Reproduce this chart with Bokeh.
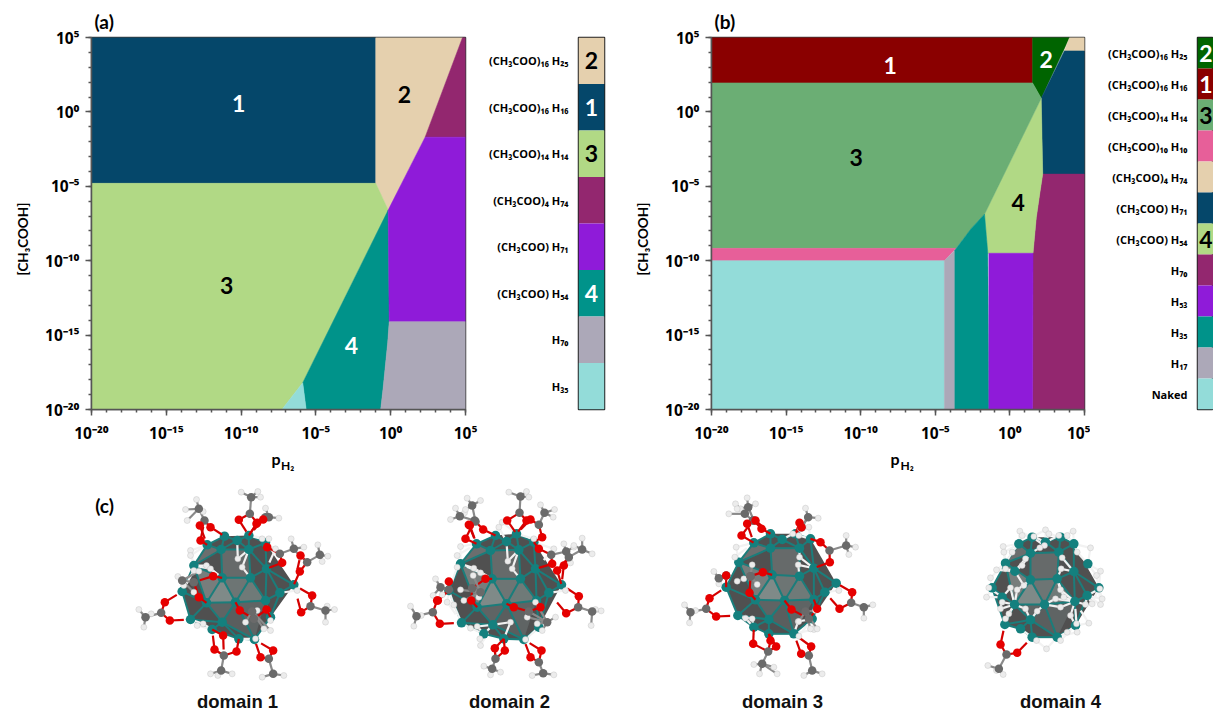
from bokeh.plotting import figure
from bokeh.layouts import row, column
from bokeh.models import FixedTicker, Title, Range1d
from bokeh.core.properties import value
from bokeh.embed import file_html
from bokeh.resources import INLINE

# ---------- colours
BEIGE="#e5d0ae"; NAVY="#05476a"; LGREEN="#b1d985"; PLUM="#93276f"; PURPLE="#8f1bd9"
TEAL="#00938a"; GRAY="#aca8b8"; CYAN="#93dcd9"; DRED="#8a0000"; DGREEN="#006400"
MGREEN="#6bae74"; PINK="#e75f99"

# ---------- panel (a): stability domains, log10(p_H2), log10([CH3COOH])
a_colors = [NAVY,BEIGE,LGREEN,TEAL,PLUM,PURPLE,GRAY,CYAN]
a_xs = [[-20,-1,-1,-20],[-1,4.8,2.3,-0.17,-1],[-20,-1,-0.17,-5.88,-7.27,-20],
        [-0.17,-0.1,-0.2,-0.35,-0.5,-0.67,-5.65,-5.88],[4.8,5,5,2.3],[-0.17,2.3,5,5,-0.1],
        [-0.1,5,5,-0.67,-0.5,-0.35,-0.2],[-5.88,-5.65,-7.27]]
a_ys = [[5,5,-4.8,-4.8],[5,5,-1.7,-6.6,-4.8],[-4.8,-4.8,-6.6,-18.2,-20,-20],
        [-6.6,-14.1,-15.5,-17,-18.5,-20,-20,-18.2],[5,5,-1.7,-1.7],[-6.6,-1.7,-1.7,-14.1,-14.1],
        [-14.1,-14.1,-20,-20,-18.5,-17,-15.5],[-18.2,-20,-20]]
a_lab = ["1","2","3","4"]; a_lab_x = [-10.17,0.92,-10.97,-2.62]; a_lab_y = [0.57,1.17,-11.7,-15.67]
a_lab_col = ["white","black","black","white"]

# ---------- panel (b)
b_colors = [DRED,DGREEN,BEIGE,NAVY,PLUM,LGREEN,MGREEN,PINK,CYAN,GRAY,TEAL,PURPLE]
b_xs = [[-20,1.52,1.52,-20],[1.52,4.0,2.1,1.52],[4.0,5,5,3.65],[3.65,5,5,2.2,2.1],
        [2.2,5,5,1.52,1.55,1.77,2.0],[2.1,2.2,2.0,1.77,1.55,-1.48,-1.7],
        [-20,1.52,2.1,-1.7,-2.6,-3.6,-20],[-20,-3.6,-4.4,-20],[-20,-4.39,-4.39,-20],
        [-4.39,-3.69,-3.69,-4.39],[-3.69,-2.6,-1.7,-1.48,-1.41,-3.69],[-1.41,1.55,1.52,-1.41]]
b_ys = [[5,5,1.95,1.95],[5,5,0.92,1.95],[5,5,4.1,4.1],[4.1,4.1,-4.18,-4.18,0.92],
        [-4.18,-4.18,-20,-20,-9.5,-7.1,-5.5],[0.92,-4.18,-5.5,-7.1,-9.5,-9.5,-6.87],
        [1.95,1.95,0.92,-6.87,-7.85,-9.17,-9.17],[-9.17,-9.17,-10,-10],[-10,-10,-20,-20],
        [-10,-9.3,-20,-20],[-9.3,-7.85,-6.87,-9.5,-20,-20],[-9.5,-9.5,-20,-20]]
b_lab = ["1","2","3","4"]; b_lab_x = [-8.03,2.43,-10.3,0.56]; b_lab_y = [3.1,3.5,-3.09,-6.1]
b_lab_col = ["white","white","black","black"]

# ---------- colour keys (top to bottom)
ka_labels = ["(CH₃COO)₁₆ H₂₅","(CH₃COO)₁₆ H₁₆","(CH₃COO)₁₄ H₁₄","(CH₃COO)₄ H₇₄","(CH₃COO) H₇₁","(CH₃COO) H₅₄","H₇₀","H₃₅"]
ka_colors = [BEIGE,NAVY,LGREEN,PLUM,PURPLE,TEAL,GRAY,CYAN]
ka_nums = ["2","1","3","","","4","",""]
ka_numcol = ["black","white","black","white","white","white","black","black"]
kb_labels = ["(CH₃COO)₁₆ H₂₅","(CH₃COO)₁₆ H₁₆","(CH₃COO)₁₄ H₁₄","(CH₃COO)₁₀ H₁₀","(CH₃COO)₄ H₇₄","(CH₃COO) H₇₁",
             "(CH₃COO) H₅₄","H₇₀","H₅₃","H₃₅","H₁₇","Naked"]
kb_colors = [DGREEN,DRED,MGREEN,PINK,BEIGE,NAVY,LGREEN,PLUM,PURPLE,TEAL,GRAY,CYAN]
kb_nums = ["2","1","3","","","","4","","","","",""]
kb_numcol = ["white","white","black","black","black","white","black","white","white","white","black","black"]

tick_vals = [-20,-15,-10,-5,0,5]
tick_text = ["10⁻²⁰","10⁻¹⁵","10⁻¹⁰","10⁻⁵","10⁰","10⁵"]
minor_vals = list(range(-20,6))

# ---------- structure sketches (positions, 3x crop pixels)
bonds = [(0,1),(0,4),(4,5),(5,6),(6,3),(3,2),(1,5),(2,5),(1,4),(2,6),(1,2),(0,7),(1,8),(2,9),(1,7),(3,10),(2,10),
         (7,8),(8,9),(9,10),(7,11),(8,12),(8,13),(9,13),(9,14),(10,14),(10,16),(11,12),(7,12),(12,13),(13,14),(14,15),
         (15,16),(11,17),(12,17),(12,18),(13,18),(14,22),(15,22),(17,18),(17,19),(18,19),(18,20),(19,20),(20,21),(18,21),
         (21,22),(13,21),(10,15)]
hull = [0,4,6,3,16,22,21,20,19,17,11,7]
faces_light = [(1,2,9,8),(8,12,13),(9,13,14),(8,9,13),(7,8,12),(12,13,18),(13,18,21),(13,14,21),(0,1,7)]
face_cols = ["#666a6a","#7f8a88","#6f7a78","#6d7574","#777d7c","#5f6464","#5a5e5e","#5f6464","#6b6e6e"]

m1_org = (130,485)
m1_teal = [(230,178),(272,192),(355,192),(405,172),(282,152),(320,165),(355,150),(190,240),(275,277),(360,277),(408,250),
           (155,318),(228,352),(315,350),(405,345),(448,322),(490,298),(180,402),(275,410),(245,432),(325,460),(372,462),(420,395)]
m1_lig = [([(325,103),(380,112)],(358,85),(362,35),[(332,20),(382,18),(390,35)]),
          ([(208,120),(240,125),(210,165)],(222,105),(205,70),[(198,42),(165,72),(170,105),(218,78)]),
          ([(398,102),(378,115)],(405,95),(415,95),[(405,68),(445,98)]),
          ([(410,185),(455,232)],(448,205),(490,190),[(482,160),(520,185),(510,215)]),
          ([(510,210),(508,258)],(530,230),(568,208),[(562,178),(592,212),(575,228)]),
          ([(545,330),(512,380)],(540,362),(585,375),[(612,372),(585,410),(590,362)]),
          ([(103,350),(118,405)],(92,382),(45,395),[(25,372),(40,425),(62,385)]),
          ([(252,492),(318,498),(278,450)],(280,510),(272,555),[(240,565),(305,565),(262,570)]),
          ([(390,515),(428,495)],(415,520),(428,565),[(395,575),(460,570)]),
          ([(248,272),(205,335)],(190,290),(155,285),[(142,273),(205,257),(160,300),(190,320)]),
          ([(328,375),(408,372)],(370,400),(365,378),[(345,410),(380,375),(400,430),(420,435)])]
m1_h = [(180,195),(180,210),(228,240),(240,250),(322,220),(335,245),(218,415),(200,420),(375,460),(435,190),(500,315),
        (420,405),(395,160),(190,255),(415,160)]

m2_org = (400,485)
m2_teal = [(228,175),(270,195),(355,193),(400,170),(285,150),(318,168),(348,145),(180,235),(275,280),(360,280),(405,250),
           (145,315),(230,365),(318,355),(408,345),(445,322),(483,298),(183,412),(277,418),(250,445),(310,460),(370,462),(415,425)]
m2_lig = [([(320,105),(378,105)],(357,82),(360,33),[(325,20),(378,18),(385,35)]),
          ([(208,120),(195,160)],(222,105),(178,92),[(165,68),(150,102),(192,82)]),
          ([(248,132),(205,118)],(225,108),(215,60),[(200,38),(240,45),(195,72)]),
          ([(390,102),(425,155)],(415,118),(432,82),[(420,58),(462,72),(458,95)]),
          ([(415,190),(455,235)],(452,208),(497,198),[(490,175),(520,185),(510,232)]),
          ([(490,240),(470,255)],(505,215),(545,192),[(545,158),(575,205),(520,180)]),
          ([(535,332),(497,383)],(533,365),(575,378),[(602,376),(572,420),(585,372)]),
          ([(110,345),(118,415)],(97,380),(48,392),[(30,362),(40,422),(62,390)]),
          ([(145,288),(112,345)],(145,312),(120,305),[(105,280),(98,330),(125,328)]),
          ([(255,280),(212,345)],(215,308),(240,320),[(180,313),(218,270),(235,335),(190,345)]),
          ([(340,365),(420,365)],(385,378),(440,410),[(405,350),(380,395),(425,435),(465,395),(410,415)]),
          ([(283,488),(313,495)],(285,520),(275,550),[(250,542),(300,560),(270,568)]),
          ([(390,515),(423,495)],(415,530),(428,563),[(395,570),(460,568)])]
m2_h = [(295,125),(305,110),(180,183),(170,210),(170,245),(220,248),(240,262),(322,227),(335,250),(140,350),(160,358),
        (230,423),(210,428),(330,410),(375,462),(240,480),(238,460),(400,160),(495,315),(460,190)]

m3_org = (675,485)
m3_teal = [(235,172),(285,188),(372,188),(405,160),(285,145),(320,162),(360,145),(190,230),(290,268),(372,272),(415,248),
           (152,305),(240,343),(327,345),(415,342),(448,320),(482,293),(187,390),(280,402),(235,425),(280,445),(355,445),(410,400)]
m3_lig = [([(215,115),(198,150)],(232,105),(208,85),[(180,55),(160,85),(195,70)]),
          ([(258,130),(240,105)],(235,105),(218,65),[(215,37),(240,55),(185,70)]),
          ([(372,112),(378,125)],(378,125),(398,95),[(390,68),(428,98),(375,130)]),
          ([(435,170),(463,230)],(462,195),(512,180),[(512,150),(540,185),(520,207)]),
          ([(530,320),(492,370)],(527,352),(565,365),[(592,358),(565,398)]),
          ([(102,338),(122,393)],(92,370),(45,380),[(27,358),(42,412),(60,375)]),
          ([(152,270)],(152,270),(130,278),[(115,258),(130,295)]),
          ([(222,322),(262,260)],(225,272),(225,272),[(230,238),(185,287),(245,297),(205,280)]),
          ([(348,372),(425,370)],(400,400),(390,378),[(370,408),(425,430),(405,430),(420,375)]),
          ([(233,475),(302,483),(285,465)],(278,498),(260,535),[(235,537),(295,545),(252,565),(305,565)]),
          ([(377,505),(407,483)],(400,510),(410,555),[(385,570),(440,565)])]
m3_h = [(182,185),(178,215),(370,150),(352,145),(400,125),(372,215),(368,238),(230,400),(210,398),(368,408),(370,452),
        (490,315),(415,432)]

m4_org = (960,500)
m4_teal = [(175,130),(210,158),(295,155),(340,130),(215,110),(255,125),(300,110),(135,188),(210,238),(290,235),(340,213),
           (95,262),(162,312),(252,312),(343,303),(380,285),(415,262),(133,372),(210,358),(180,385),(215,410),(290,410),(345,375),
           (382,190),(163,212),(125,290)]
m4_lig = [([(120,432),(170,457)],(138,462),(115,505),[(82,495),(128,522),(108,510)])]
m4_h = [(178,92),(185,105),(220,108),(255,88),(265,100),(295,105),(338,92),(320,105),(128,138),(130,155),(155,155),
        (252,135),(238,142),(350,155),(390,142),(135,205),(108,208),(195,175),(185,195),(305,172),(302,205),(420,212),
        (408,225),(90,232),(85,262),(78,290),(125,305),(150,262),(170,268),(190,255),(300,268),(285,295),(310,290),
        (145,340),(195,325),(230,332),(300,320),(330,345),(375,312),(395,310),(418,265),(425,295),(420,312),(385,368),
        (348,370),(350,395),(320,395),(258,445),(228,420),(300,420),(120,325),(135,355)]

domain_names = ["domain 1","domain 2","domain 3","domain 4"]

FONT = value("Lato")
TICKF = "Open Sans"
TOP_H = 450


def ttl(txt, size, **kw):
    return Title(text=txt, text_font="Lato", text_font_style="bold", text_font_size=size, text_color="black", **kw)


def panel(xs, ys, cols, lx, ly, lt, lc, w, left, right, tag):
    p = figure(width=w, height=TOP_H, x_range=Range1d(-20,5), y_range=Range1d(-20,5), output_backend="svg",
               toolbar_location=None, min_border_left=left, min_border_right=right, min_border_top=37,
               min_border_bottom=TOP_H-409, outline_line_color="#3c3c3c", outline_line_width=1.5)
    p.grid.visible = False
    p.patches(xs, ys, fill_color=cols, line_color=cols, line_width=0.5)
    for ax in (p.xaxis[0], p.yaxis[0]):
        ax.ticker = FixedTicker(ticks=tick_vals, minor_ticks=minor_vals)
        ax.major_label_overrides = dict(zip(tick_vals, tick_text))
        ax.major_label_text_font = TICKF
        ax.major_label_text_font_style = "bold"
        ax.major_label_text_font_size = "15.5px"
        ax.major_label_text_color = "black"
        ax.axis_line_color = "#555555"; ax.axis_line_width = 1.5
        ax.major_tick_line_color = "#555555"; ax.major_tick_line_width = 1.5
        ax.minor_tick_line_color = "#555555"; ax.minor_tick_line_width = 1.5
        ax.major_tick_in = 0; ax.major_tick_out = 6
        ax.minor_tick_in = 0; ax.minor_tick_out = 3
    p.xaxis[0].major_label_standoff = 6
    p.yaxis[0].major_label_standoff = 6
    p.text(lx, ly, text=lt, text_color=lc, text_font=FONT, text_font_style="bold", text_font_size="23px",
           text_align="center", text_baseline="middle")
    p.add_layout(ttl(tag, "19px", align="left", offset=3, standoff=9), "above")
    p.add_layout(ttl("[CH₃COOH]", "13.5px", align="left", offset=134, standoff=24), "left")
    return p


def key(labels, cols, nums, numcol, w, left, right, numx):
    n = len(labels)
    p = figure(width=w, height=TOP_H, x_range=Range1d(0,1), y_range=Range1d(0,n), output_backend="svg",
               toolbar_location=None, min_border_left=left, min_border_right=right, min_border_top=37,
               min_border_bottom=TOP_H-409, outline_line_color="#222222", outline_line_width=1.5)
    p.grid.visible = False
    p.xaxis.visible = False
    tops = [n-i for i in range(n)]
    bots = [n-i-1 for i in range(n)]
    mids = [n-i-0.5 for i in range(n)]
    p.quad(left=0, right=1, top=tops, bottom=bots, fill_color=cols, line_color=None)
    ax = p.yaxis[0]
    ax.ticker = FixedTicker(ticks=mids)
    ax.major_label_overrides = dict(zip(mids, labels))
    ax.major_label_text_font = TICKF; ax.major_label_text_font_style = "bold"
    ax.major_label_text_font_size = "11px"; ax.major_label_text_color = "black"
    ax.axis_line_color = None; ax.major_tick_line_color = None; ax.minor_tick_line_color = None
    ax.major_tick_out = 0; ax.major_label_standoff = 10
    p.text([numx]*n, mids, text=nums, text_color=numcol, text_font=FONT, text_font_style="bold",
           text_font_size="23px", text_align="center", text_baseline="middle")
    return p


pa = panel(a_xs, a_ys, a_colors, a_lab_x, a_lab_y, a_lab, a_lab_col, 480, 91, 15, "(a)")
ka = key(ka_labels, ka_colors, ka_nums, ka_numcol, 130, 98, 6, 0.5)
pb = panel(b_xs, b_ys, b_colors, b_lab_x, b_lab_y, b_lab, b_lab_col, 480, 101, 6, "(b)")
kb = key(kb_labels, kb_colors, kb_nums, kb_numcol, 123, 107, 0, 0.52)

# ---------- panel (c), which also carries the p_H2 axis titles of the panels above it
pc = figure(width=1213, height=711-TOP_H, x_range=Range1d(0,1213), y_range=Range1d(711,TOP_H), output_backend="svg",
            toolbar_location=None, min_border=0, outline_line_color=None)
pc.axis.visible = False
pc.grid.visible = False


def near(pt, pts, k):
    return sorted(pts, key=lambda q: (q[0]-pt[0])**2 + (q[1]-pt[1])**2)[:k]


def toward(a, b, maxlen=42):
    d = ((a[0]-b[0])**2 + (a[1]-b[1])**2)**0.5
    f = min(1, maxlen/d) if d else 1
    return (a[0]+(b[0]-a[0])*f, a[1]+(b[1]-a[1])*f)


def molecule(org, teal, lig, hyd):
    X = lambda v: org[0] + v/3
    Y = lambda v: org[1] + v/3
    pc.patch([X(teal[i][0]) for i in hull], [Y(teal[i][1]) for i in hull], fill_color="#505050", line_color=None)
    pc.patches([[X(teal[i][0]) for i in f] for f in faces_light], [[Y(teal[i][1]) for i in f] for f in faces_light],
               fill_color=face_cols, line_color=None)
    pc.segment([X(teal[a][0]) for a,b in bonds], [Y(teal[a][1]) for a,b in bonds],
               [X(teal[b][0]) for a,b in bonds], [Y(teal[b][1]) for a,b in bonds], line_color="#1b7d7b", line_width=2)
    hs = [(h, toward(h, t, 45)) for h in hyd for t in near(h, teal, 2)]
    pc.segment([X(h[0]) for h,t in hs], [Y(h[1]) for h,t in hs], [X(t[0]) for h,t in hs], [Y(t[1]) for h,t in hs],
               line_color="#f2f2f2", line_width=2.2)
    pc.scatter([X(t[0]) for t in teal], [Y(t[1]) for t in teal], size=9.5, fill_color="#14807e", line_color=None)
    seg_red, seg_gray, red, gray, white = [], [], [], [], []
    for ox, c, me, hh in lig:
        for o in ox:
            seg_red.append((o, toward(o, near(o, teal, 1)[0]))); seg_red.append((o, toward(o, c))); red.append(o)
        seg_gray.append((c, me)); gray += [c, me]
        for h in hh:
            seg_gray.append((me, h)); white.append(h)
    pc.segment([X(a[0]) for a,b in seg_red], [Y(a[1]) for a,b in seg_red], [X(b[0]) for a,b in seg_red],
               [Y(b[1]) for a,b in seg_red], line_color="#d40000", line_width=2.2)
    pc.segment([X(a[0]) for a,b in seg_gray], [Y(a[1]) for a,b in seg_gray], [X(b[0]) for a,b in seg_gray],
               [Y(b[1]) for a,b in seg_gray], line_color="#8a8a8a", line_width=2.2)
    pc.scatter([X(v[0]) for v in hyd+white], [Y(v[1]) for v in hyd+white], size=6, fill_color="#ececec",
               line_color="#bdbdbd", line_width=0.4)
    pc.scatter([X(v[0]) for v in gray], [Y(v[1]) for v in gray], size=8.5, fill_color="#6a6a6a", line_color=None)
    pc.scatter([X(v[0]) for v in red], [Y(v[1]) for v in red], size=8.5, fill_color="#e60000", line_color=None)


molecule(m1_org, m1_teal, m1_lig, m1_h)
molecule(m2_org, m2_teal, m2_lig, m2_h)
molecule(m3_org, m3_teal, m3_lig, m3_h)
molecule(m4_org, m4_teal, m4_lig, m4_h)
pc.text([237,509,782,1060], [701]*4, text=domain_names, text_font=value("Liberation Sans"), text_font_style="bold",
        text_font_size="18.5px", text_color="#111111", text_align="center", text_baseline="middle")
pc.text([104], [505], text=["(c)"], text_font=FONT, text_font_style="bold", text_font_size="19px", text_color="black",
        text_align="center", text_baseline="middle")
pc.text([271,890], [458]*2, text=["p","p"], text_font=FONT, text_font_style="bold", text_font_size="16px",
        text_color="black", text_align="left", text_baseline="middle")
pc.text([280.5,900], [465]*2, text=["H₂","H₂"], text_font=FONT, text_font_style="bold", text_font_size="12px",
        text_color="black", text_align="left", text_baseline="middle")

root = column(row(pa, ka, pb, kb, spacing=0), pc, spacing=0)
open("out.html", "w").write(file_html(root, INLINE))
